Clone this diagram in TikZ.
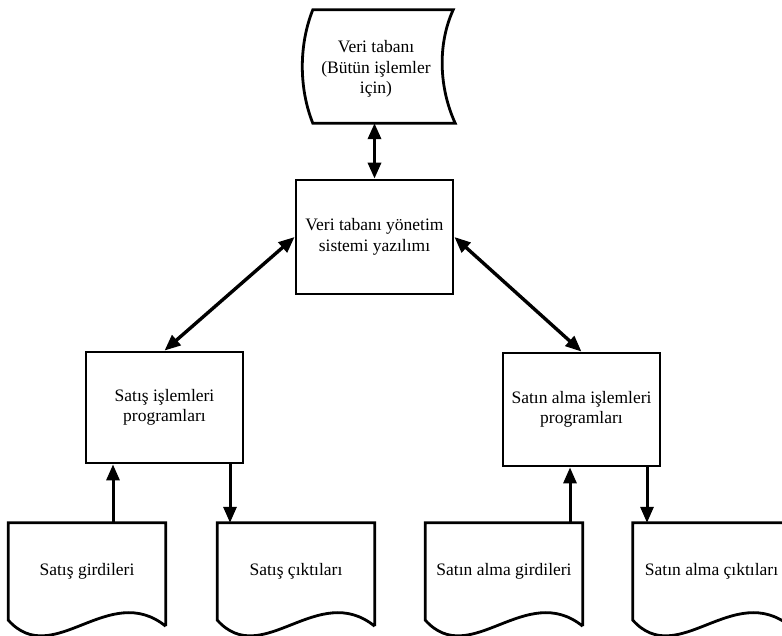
\documentclass[tikz,border=0pt]{standalone}
\usepackage{fontspec}
\setmainfont{Liberation Serif}
\usetikzlibrary{arrows.meta}

\begin{document}
\begin{tikzpicture}[x=1pt,y=-1pt,
  lbl/.style={font=\fontsize{17.5}{20.5}\selectfont, align=center, inner sep=0pt},
  procbox/.style={lbl, draw, line width=2.8pt, minimum width=157pt, minimum height=113pt},
  docarea/.style={lbl, minimum width=157pt, minimum height=97pt},
  outline/.style={draw, line width=2.8pt, line join=miter},
  tip/.tip={Triangle[width=13pt,length=16pt]},
  link/.style={line width=3.4pt, tip-tip},
  feed/.style={line width=3pt, -tip}]

  \clip (0,0) rectangle (782,636);
  \fill[white] (0,0) rectangle (782,636);

  % storage symbol for the database
  \node[minimum width=140pt, minimum height=113pt, inner sep=0pt] (db) at (383,66.5) {};
  \draw[outline] (db.north west) -- (db.north east)
        .. controls +(-16,35) and +(-16,-35) .. ([xshift=2pt]db.south east)
        -- (db.south west)
        .. controls +(-14,-35) and +(-14,35) .. (db.north west) -- cycle;
  \node[lbl] (dbtext) at (376,69) {Veri tabanı\\(Bütün işlemler\\için)};

  % processing boxes
  \node[procbox, minimum height=114pt] (dbms) at (374.5,237) {Veri tabanı yönetim\\sistemi yazılımı};
  \node[procbox, minimum height=111pt] (sales) at (164.5,407.5) {Satış işlemleri\\programları};
  \node[procbox, minimum height=113pt] (purch) at (581.5,409.5) {Satın alma işlemleri\\programları};

  % documents
  \node[docarea] (in1)  at (87,571.5)    {Satış girdileri};
  \node[docarea] (out1) at (296,571.5)   {Satış çıktıları};
  \node[docarea] (in2)  at (504,571.5)   {Satın alma girdileri};
  \node[docarea] (out2) at (711.5,571.5) {Satın alma çıktıları};

  \foreach \d in {in1,out1,in2,out2}{
    \draw[outline] ([yshift=-6pt]\d.south east) -- (\d.north east) -- (\d.north west)
          -- (\d.south west)
          .. controls +(45,50) and +(-57,-46) .. ([yshift=-6pt]\d.south east);
  }

  % connectors
  \draw[link] (dbms.north |- db.south) -- (dbms.north);
  \draw[link] (dbms.west) -- (sales.north);
  \draw[link] (dbms.east) -- (purch.north);

  \draw[feed] ([xshift=26pt]in1.north) -- ([xshift=26pt]in1.north |- sales.south);
  \draw[feed] ([xshift=-66pt]out1.north |- sales.south) -- ([xshift=-66pt]out1.north);
  \draw[feed] ([xshift=66pt]in2.north) -- ([xshift=66pt]in2.north |- purch.south);
  \draw[feed] ([xshift=-64.5pt]out2.north |- purch.south) -- ([xshift=-64.5pt]out2.north);
\end{tikzpicture}
\end{document}
